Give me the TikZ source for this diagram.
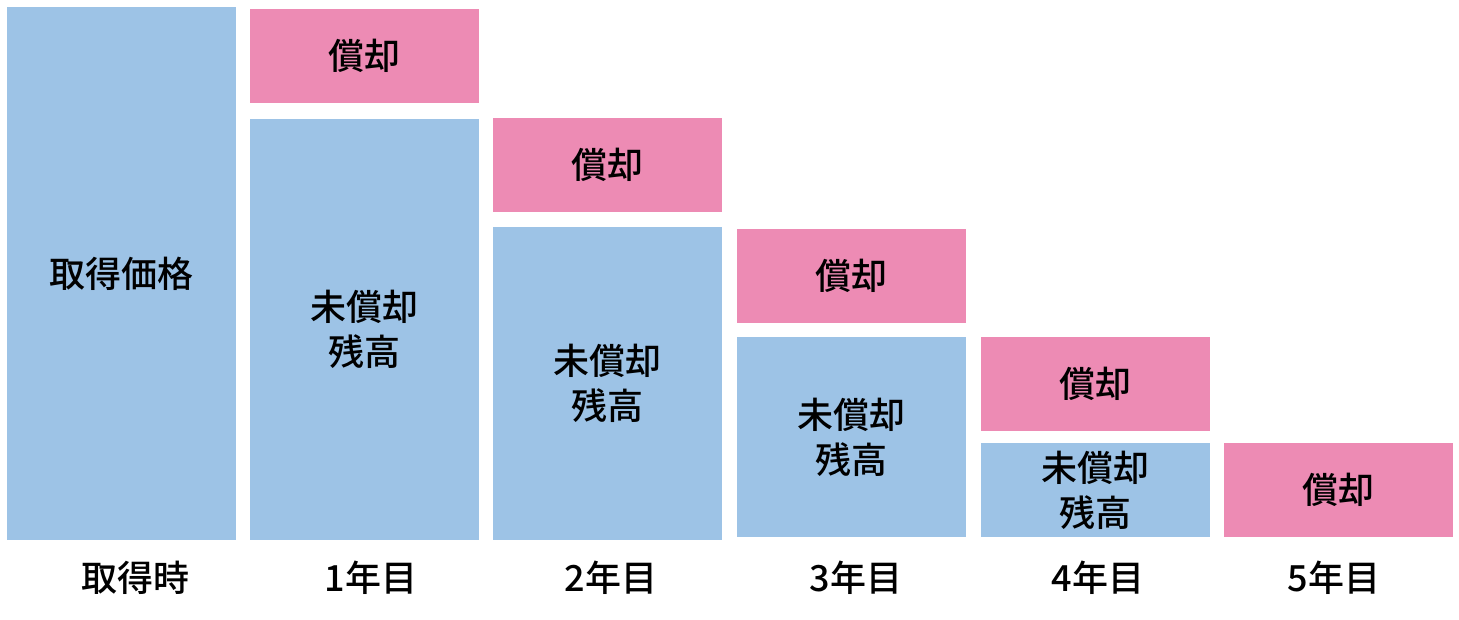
\documentclass[tikz,border=0pt]{standalone}
\usepackage{fontspec}
\setmainfont{Noto Sans CJK JP Medium}
\usepackage{tikz}

\definecolor{zanBlue}{HTML}{9DC3E6}
\definecolor{shoPink}{HTML}{ED8BB4}

\begin{document}
\begin{tikzpicture}[x=1pt, y=-1pt,
  every node/.style={font=\fontsize{36}{45}\selectfont, inner sep=0pt, align=center},
  zanbox/.style={fill=zanBlue, minimum width=229pt},
  shobox/.style={fill=shoPink, minimum width=229pt, minimum height=94pt}]
% frame
\useasboundingbox (0,0) rectangle (1459,619);
% acquisition
\node[zanbox, minimum height=533pt] (kakaku) at (121.5,273.5) {取得価格};
% year 1
\node[shobox] (sho1) at (364.5,56) {償却};
\node[zanbox, minimum height=421pt] (zan1) at (364.5,329.5) {未償却\\残高};
% year 2
\node[shobox] (sho2) at (607.5,165) {償却};
\node[zanbox, minimum height=313pt] (zan2) at (607.5,383.5) {未償却\\残高};
% year 3
\node[shobox] (sho3) at (851,276) {償却};
\node[zanbox, minimum height=200pt] (zan3) at (851,437) {未償却\\残高};
% year 4
\node[shobox] (sho4) at (1095,384) {償却};
\node[zanbox, minimum height=94pt] (zan4) at (1095,490) {未償却\\残高};
% year 5
\node[shobox] (sho5) at (1338,490) {償却};
% captions
\node (cap0) at (135,578) {取得時};
\node (cap1) at (371,578) {1年目};
\node (cap2) at (611,578) {2年目};
\node (cap3) at (856,578) {3年目};
\node (cap4) at (1098,578) {4年目};
\node (cap5) at (1334,578) {5年目};
\end{tikzpicture}
\end{document}
